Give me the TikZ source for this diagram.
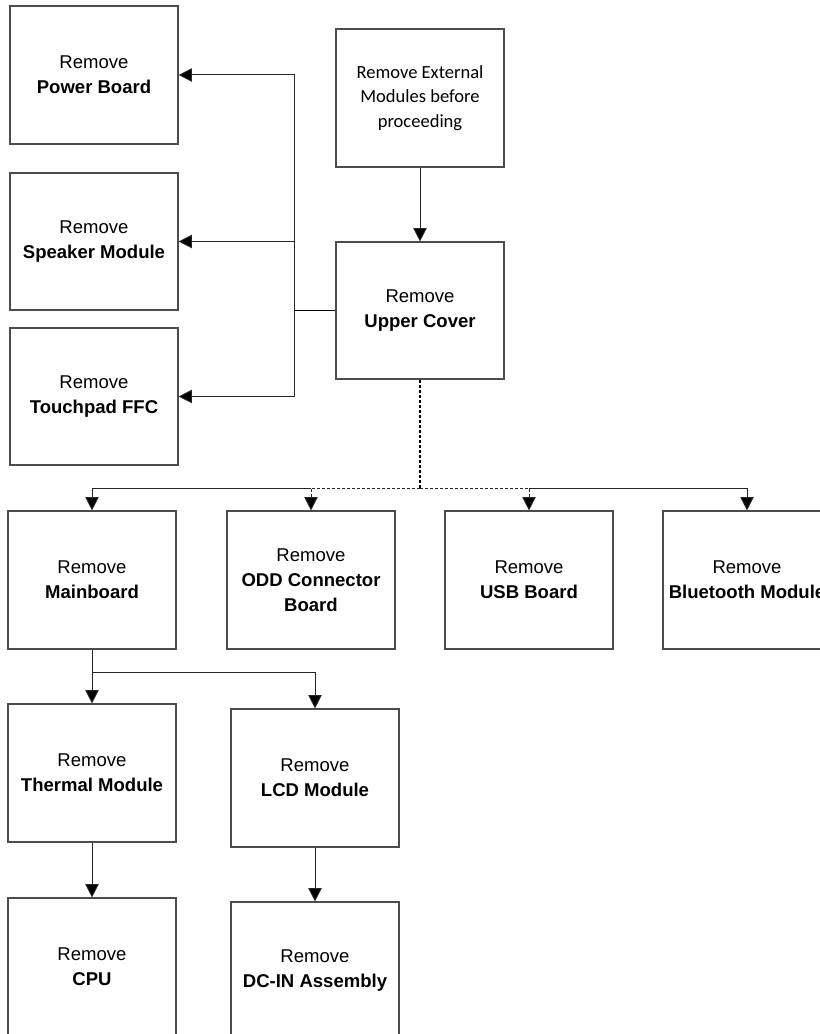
\documentclass[tikz,border=0pt]{standalone}
\usepackage{fontspec}
\setmainfont{Liberation Sans}
\newfontfamily\calfont{Carlito}
\usetikzlibrary{arrows.meta}
\tikzset{
  x=0.75pt, y=-0.75pt,
  box/.style={draw=black!70, line width=0.85pt, fill=white, minimum width=126pt, minimum height=103.5pt,
    inner sep=0pt, align=center, font=\fontsize{13.9}{18.75}\selectfont},
  conn/.style={draw=black!85, line width=0.75pt},
  arr/.style={conn, -{Triangle[length=10pt,width=10pt,fill=black]}},
  darr/.style={arr, dash pattern=on 2.25pt off 1.5pt},
  dline/.style={conn, dash pattern=on 2.25pt off 1.5pt}
}
\begin{document}
\begin{tikzpicture}
\useasboundingbox (0,0) rectangle (820,1034);
\clip (0,0) rectangle (820,1034);
\fill[white] (0,0) rectangle (820,1034);
% nodes
\node[box] (pb) at (94,75) {Remove\\\textbf{Power Board}};
\node[box, minimum height=102.75pt] (spk) at (94,241.5) {Remove\\\textbf{Speaker Module}};
\node[box, minimum height=102.75pt] (tp) at (94,396.5) {Remove\\\textbf{Touchpad FFC}};
\node[box, font=\calfont\fontsize{13.9}{18.4}\selectfont] (ext) at (420,98) {Remove External\\Modules before\\proceeding};
\node[box, minimum height=102.75pt] (uc) at (420,310.5) {Remove\\\textbf{Upper Cover}};
\node[box] (main) at (92,580) {Remove\\\textbf{Mainboard}};
\node[box] (odd) at (311,580) {Remove\\\textbf{ODD Connector}\\\textbf{Board}};
\node[box] (usb) at (529,580) {Remove\\\textbf{USB Board}};
\node[box] (bt) at (747,580) {Remove\\\textbf{Bluetooth Module}};
\node[box] (therm) at (92,773) {Remove\\\textbf{Thermal Module}};
\node[box] (lcd) at (315,778) {Remove\\\textbf{LCD Module}};
\node[box] (cpu) at (92,967) {Remove\\\textbf{CPU}};
\node[box] (dcin) at (315,971) {Remove\\\textbf{DC-IN Assembly}};
% coordinates
\coordinate (trunk) at (294,310.5);
\coordinate (bus) at (420,488);
\coordinate (branch) at (92,672);
% connectors
\draw[arr] (ext.south) -- (uc.north);
\draw[conn, line width=1pt, draw=black] (uc.west) -- (trunk);
\draw[arr] (trunk) |- (pb.east);
\draw[arr] (trunk) |- (spk.east);
\draw[arr] (trunk) |- (tp.east);
\draw[dline, line width=1.1pt, draw=black] (uc.south) -- (bus);
\draw[darr] (bus) -| (odd.north);
\draw[darr] (bus) -| (usb.north);
\draw[arr] (odd.north |- bus) -| (main.north);
\draw[arr] (usb.north |- bus) -| (bt.north);
\draw[conn] (main.south) -- (branch);
\draw[arr] (branch) -- (therm.north);
\draw[arr] (branch) -| (lcd.north);
\draw[arr] (therm.south) -- (cpu.north);
\draw[arr] (lcd.south) -- (dcin.north);
\end{tikzpicture}
\end{document}
